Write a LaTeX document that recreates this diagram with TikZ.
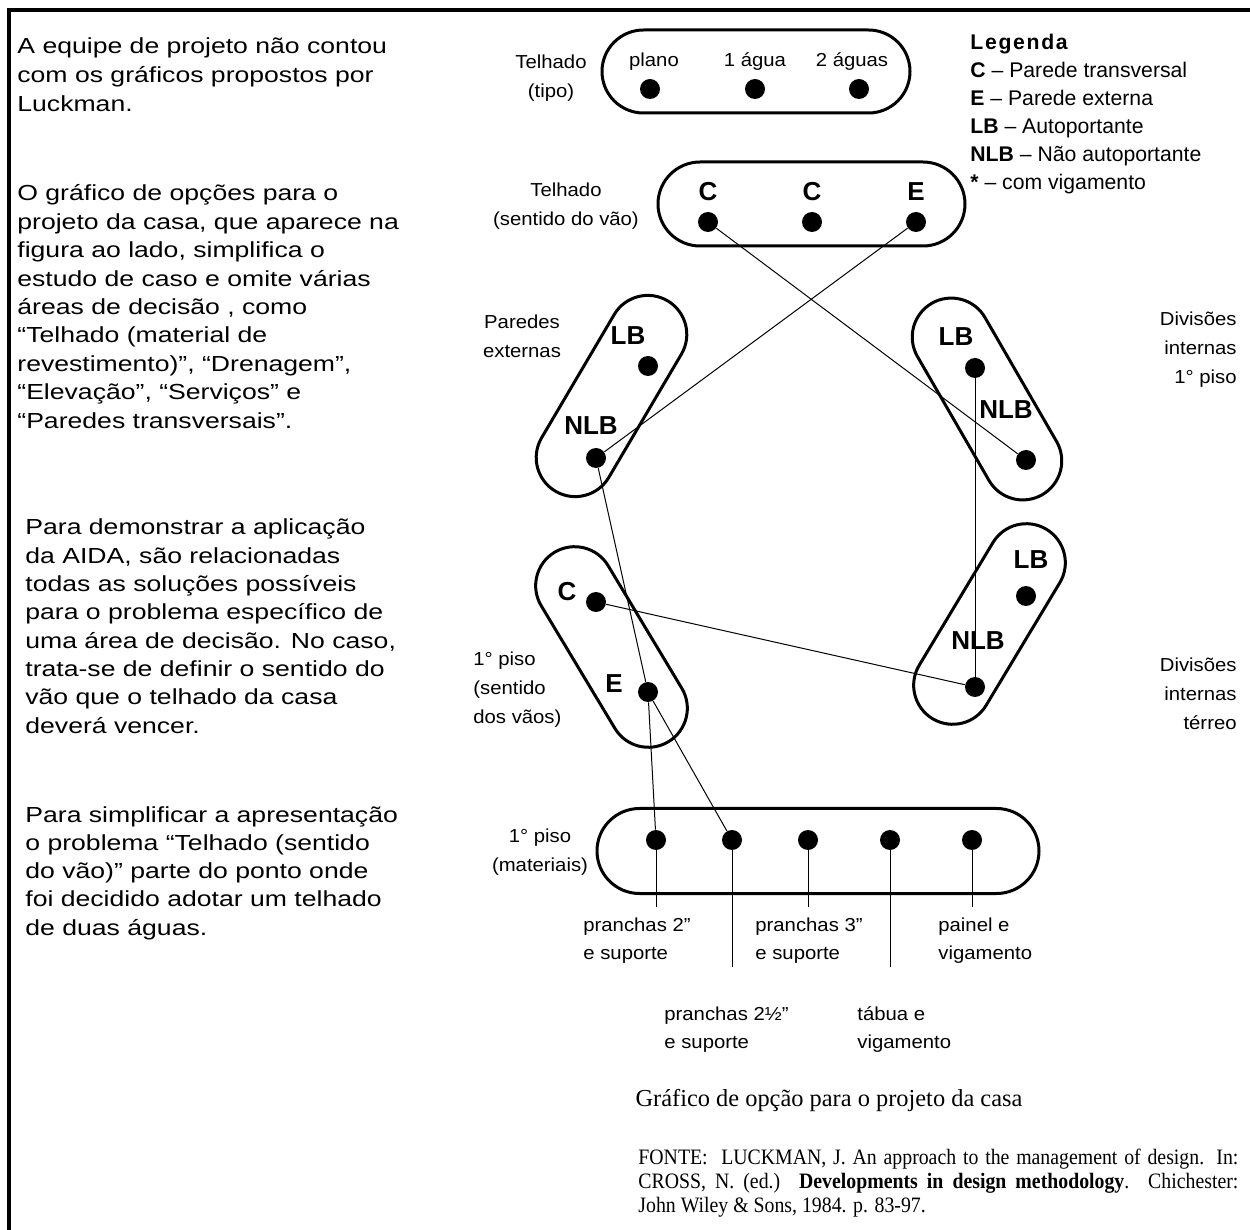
\documentclass[tikz,border=0pt]{standalone}
\usepackage{fontspec}
\setmainfont{Liberation Sans}
\newfontfamily\colfont[FakeStretch=1.22]{Liberation Sans}
\newfontfamily\diafont[FakeStretch=1.08]{Liberation Sans}
\newfontfamily\srcfont{Liberation Serif}
\newfontfamily\reffont[FakeStretch=0.9]{Liberation Serif}
\usetikzlibrary{shapes.misc}

\begin{document}
\begin{tikzpicture}
    [x=0.5pt, y=-0.5pt,
     area/.style={draw, rounded rectangle, line width=1.5pt,
       inner sep=0pt, minimum width=110.5pt, minimum height=39pt},
     opt/.style={circle, fill=black, inner sep=0pt, minimum size=10pt},
     tag/.style={font=\bfseries\fontsize{13}{13}\selectfont, inner sep=0pt},
     lbl/.style={font=\diafont\fontsize{9.4}{14.5}\selectfont, inner sep=0pt},
     para/.style={font=\colfont\fontsize{10.9}{14}\selectfont,
       anchor=base west, inner sep=0pt},
     key/.style={font=\fontsize{10.6}{14}\selectfont, anchor=base west, inner sep=0pt},
     src/.style={font=\reffont\fontsize{11}{12}\selectfont, inner sep=0pt},
     link/.style={line width=0.5pt}]
    \useasboundingbox (0,0) rectangle (1250,1230);
    \draw[line width=1.6pt] (1250,10) -- (9,10) -- (9,1230);

    % text column
    \foreach \t [count=\i] in {{A equipe de projeto não contou},
      {com os gráficos propostos por}, {Luckman.}}
      \node[para] (pa\i) at (17, {54+28.7*(\i-1)}) {\t};
    \foreach \t [count=\i] in {{O gráfico de opções para o},
      {projeto da casa, que aparece na}, {figura ao lado, simplifica o},
      {estudo de caso e omite várias}, {áreas de decisão , como},
      {“Telhado (material de}, {revestimento)”, “Drenagem”,},
      {“Elevação”, “Serviços” e}, {“Paredes transversais”.}}
      \node[para] (pb\i) at (17, {201+28.4*(\i-1)}) {\t};
    \foreach \t [count=\i] in {{Para demonstrar a aplicação},
      {da AIDA, são relacionadas}, {todas as soluções possíveis},
      {para o problema específico de}, {uma área de decisão. No caso,},
      {trata-se de definir o sentido do}, {vão que o telhado da casa},
      {deverá vencer.}}
      \node[para] (pc\i) at (25, {535+28.3*(\i-1)}) {\t};
    \foreach \t [count=\i] in {{Para simplificar a apresentação},
      {o problema “Telhado (sentido}, {do vão)” parte do ponto onde},
      {foi decidido adotar um telhado}, {de duas águas.}}
      \node[para] (pd\i) at (25, {822+28.3*(\i-1)}) {\t};

    % legend
    \foreach \t [count=\i] in {{\textbf{\addfontfeatures{LetterSpace=8}Legenda}},
      {\textbf{C} – Parede transversal}, {\textbf{E} – Parede externa},
      {\textbf{LB} – Autoportante}, {\textbf{NLB} – Não autoportante},
      {\textbf{*} – com vigamento}}
      \node[key] (lg\i) at (970, {50+28*(\i-1)}) {\t};

    % telhado (tipo)
    \node[area, minimum width=154pt, minimum height=41.5pt] (tt) at (756,71.5) {};
    \node[lbl, align=center] (ttl) at (551,78) {Telhado\\(tipo)};
    \foreach \x/\t [count=\i] in {654/plano, 755/1 água, 852/2 águas}
      \node[lbl, anchor=base] (ttn\i) at (\x,67) {\t};
    \foreach \x [count=\i] in {650,755,859}
      \node[opt] (tt\i) at (\x,89) {};

    % telhado (sentido do vao)
    \node[area, minimum width=153.5pt, minimum height=42pt] (ts) at (811.5,204) {};
    \node[lbl, align=center] (tsl) at (566,206) {Telhado\\(sentido do vão)};
    \foreach \x/\t [count=\i] in {708/C, 812/C, 916/E}
    {
      \node[tag] (tsn\i) at (\x,192) {\t};
      \node[opt] (ts\i) at (\x,222) {};
    }

    % paredes externas
    \node[area, rotate=59.5] (pe) at (611.5,396) {};
    \node[lbl, align=center] (pel) at (522,336) {Paredes\\externas};
    \node[tag] (pelt) at (628,336) {LB};
    \node[opt] (pel1) at (648,366) {};
    \node[tag] (pent) at (591,426) {NLB};
    \node[opt] (pen) at (596,458) {};

    % divisoes internas 1o piso
    \node[area, rotate=-60] (d1) at (987,399) {};
    \node[lbl, align=right, anchor=east] (d1a) at (1237,350) {Divisões\\internas\\1° piso};
    \node[tag] (d1lt) at (956,337) {LB};
    \node[opt] (d1l) at (975,368) {};
    \node[tag] (d1nt) at (1006,410) {NLB};
    \node[opt] (d1n) at (1026,460) {};

    % divisoes internas terreo
    \node[area, rotate=59] (dt) at (989.5,624) {};
    \node[lbl, align=right, anchor=east] (dta) at (1237,694) {Divisões\\internas\\térreo};
    \node[tag] (dtlt) at (1031,560) {LB};
    \node[opt] (dtl) at (1026,596) {};
    \node[tag] (dtnt) at (978,641) {NLB};
    \node[opt] (dtn) at (975,687) {};

    % 1o piso (sentido dos vaos)
    \node[area, rotate=-59] (ps) at (611.5,647) {};
    \node[lbl, align=left, anchor=west] (psa) at (473,690) {1° piso\\(sentido\\dos vãos)};
    \node[tag] (psct) at (567,592) {C};
    \node[opt] (psc) at (596,602) {};
    \node[tag] (pset) at (614,684) {E};
    \node[opt] (pse) at (648,692) {};

    % 1o piso (materiais)
    \node[area, minimum width=221pt, minimum height=42.5pt] (pm) at (818,851) {};
    \node[lbl, align=center] (pma) at (540,852) {1° piso\\(materiais)};
    \foreach \x/\e [count=\k] in {656/907, 732/967, 808/907, 890/967, 972/907}
    {
      \node[opt] (m\k) at (\x,840) {};
      \coordinate (e\k) at (\x,\e);
      \draw[link] (m\k) -- (e\k);
    }
    \foreach \x/\y/\a/\b [count=\k] in {583/931/pranchas 2”/e suporte,
      664/1020/pranchas 2½”/e suporte, 755/931/pranchas 3”/e suporte,
      857/1020/tábua e/vigamento, 938/931/painel e/vigamento}
    {
      \node[lbl, anchor=base west] (ma\k) at (\x,\y) {\a};
      \node[lbl, anchor=base west] (mb\k) at (\x,\y+28) {\b};
    }

    % links
    \draw[link] (ts1) -- (d1n);
    \draw[link] (ts3) -- (pen);
    \draw[link] (pen) -- (pse);
    \draw[link] (d1l) -- (dtn);
    \draw[link] (psc) -- (dtn);
    \draw[link] (pse) -- (m1);
    \draw[link] (pse) -- (m2);

    % source
    \node[src, font=\srcfont\fontsize{12.2}{12}\selectfont, anchor=base] (cap) at (829,1106)
      {Gráfico de opção para o projeto da casa};
    \node[src, anchor=base west] (fo1) at (638,1164)
      {\makebox[300pt][s]{FONTE:\ \ LUCKMAN, J. An approach to the management of design. In:}};
    \node[src, anchor=base west] (fo2) at (638,1188)
      {\makebox[300pt][s]{CROSS, N. (ed.) \textbf{Developments in design methodology}. Chichester:}};
    \node[src, anchor=base west] (fo3) at (638,1212) {John Wiley \& Sons, 1984. p. 83-97.};
\end{tikzpicture}
\end{document}
